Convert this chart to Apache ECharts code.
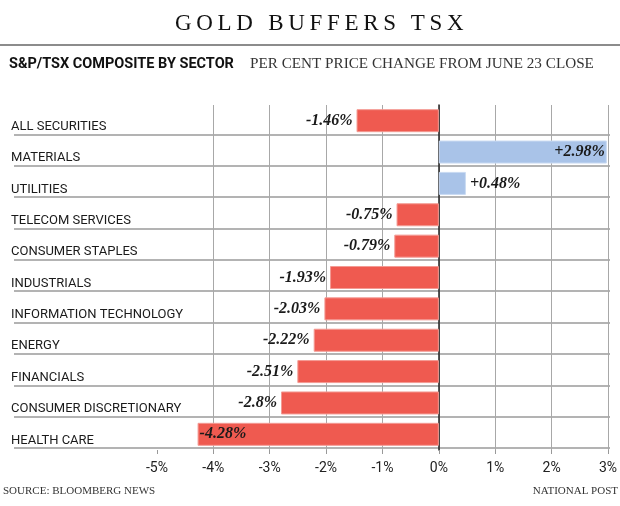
<!DOCTYPE html>
<html>
<head>
<meta charset="utf-8">
<script src="https://cdn.jsdelivr.net/npm/echarts@6/dist/echarts.min.js"></script>
<style>
  html, body { margin: 0; padding: 0; background: #fff; }
  #wrap { position: relative; width: 620px; height: 506px; }
  #chart { position: absolute; left: 0; top: 0; width: 620px; height: 506px; }
  #headline { position: absolute; left: 175px; top: 11px; white-space: nowrap;
    font-family: "Liberation Serif", "DejaVu Serif", serif; font-size: 23px; line-height: 23px;
    letter-spacing: 4.7px; color: #111; z-index: 2; }
</style>
</head>
<body>
<div id="wrap">
  <div id="chart"></div>
  <div id="headline">GOLD BUFFERS TSX</div>
</div>
<script>
// ---- data ----
const categories = ['ALL SECURITIES', 'MATERIALS', 'UTILITIES', 'TELECOM SERVICES', 'CONSUMER STAPLES',
  'INDUSTRIALS', 'INFORMATION TECHNOLOGY', 'ENERGY', 'FINANCIALS', 'CONSUMER DISCRETIONARY', 'HEALTH CARE'];
const values = [-1.46, 2.98, 0.48, -0.75, -0.79, -1.93, -2.03, -2.22, -2.51, -2.8, -4.28];
const xTicks = [-5, -4, -3, -2, -1, 0, 1, 2, 3];
const subtitleBold = 'S&P/TSX COMPOSITE BY SECTOR';
const subtitleText = 'PER CENT PRICE CHANGE FROM JUNE 23 CLOSE';
const sourceText = 'SOURCE: BLOOMBERG NEWS';
const creditText = 'NATIONAL POST';

// ---- styles ----
const RED = '#ef5a50';
const BLUE = '#a9c3e8';
const sansNarrow = '"Liberation Sans Narrow", "Roboto", sans-serif';
const serif = '"Liberation Serif", "DejaVu Serif", serif';

const barData = values.map(v => {
  const inside = (v < -4 || v > 2.5);
  return {
    value: v,
    itemStyle: { color: v < 0 ? RED : BLUE, borderColor: v < 0 ? '#f39a93' : '#c9daf2', borderWidth: 1 },
    label: { position: inside ? (v < 0 ? 'insideLeft' : 'insideRight') : (v < 0 ? 'left' : 'right'),
             distance: inside ? 2 : 4 }
  };
});

const chart = echarts.init(document.getElementById('chart'), null, { renderer: 'canvas' });
chart.setOption({
  backgroundColor: '#fff',
  animation: false,
  title: [
    { text: subtitleBold, left: 9, top: 57, padding: 0,
      textStyle: { fontFamily: 'Roboto, sans-serif', fontWeight: 'bold', fontSize: 14.5, color: '#111' } },
    { text: subtitleText, left: 250, top: 57, padding: 0,
      textStyle: { fontFamily: serif, fontWeight: 'normal', fontSize: 15.2, color: '#333' } },
    { text: sourceText, left: 3, top: 486, padding: 0,
      textStyle: { fontFamily: serif, fontWeight: 'normal', fontSize: 11, color: '#333' } },
    { text: creditText, right: 2, top: 486, padding: 0,
      textStyle: { fontFamily: serif, fontWeight: 'normal', fontSize: 11, color: '#333' } }
  ],
  graphic: [
    { type: 'line', shape: { x1: 0, y1: 45, x2: 620, y2: 45 }, style: { stroke: '#666', lineWidth: 1.5 } }
  ],
  grid: [
    { left: 157, right: 10, top: 105, bottom: 56 },
    { left: 14, right: 10, top: 103, bottom: 58 }
  ],
  xAxis: [
    { gridIndex: 0, type: 'value', min: xTicks[0], max: xTicks[xTicks.length - 1], interval: 1,
      axisLine: { show: false },
      axisTick: { show: true, length: 4, lineStyle: { color: '#999' } },
      axisLabel: { margin: 11, formatter: '{value}%', fontFamily: sansNarrow, fontSize: 14, color: '#222' },
      splitLine: { show: true, showMinLine: false, lineStyle: { color: '#a8a8a8', width: 1 } } },
    { gridIndex: 1, type: 'value', min: 0, max: 1, show: false }
  ],
  yAxis: [
    { gridIndex: 0, type: 'category', inverse: true, data: categories,
      axisLine: { show: true, onZero: true, lineStyle: { color: '#222', width: 1.5 } },
      axisTick: { show: false }, axisLabel: { show: false }, splitLine: { show: false } },
    { gridIndex: 1, type: 'category', inverse: true, data: categories,
      axisLine: { show: false }, axisTick: { show: false },
      axisLabel: { inside: true, align: 'left', margin: -3, verticalAlign: 'top', lineHeight: 16,
        fontFamily: sansNarrow, fontSize: 13, color: '#1a1a1a' },
      splitLine: { show: true, showMinLine: false, lineStyle: { color: '#9a9a9a', width: 1.5 } } }
  ],
  series: [
    { type: 'bar', xAxisIndex: 0, yAxisIndex: 0, barWidth: 23, data: barData,
      label: { show: true,
        formatter: p => (p.value > 0 ? '+' : '') + p.value + '%',
        fontFamily: serif, fontStyle: 'italic', fontWeight: 'bold', fontSize: 16, color: '#1a1a1a' } }
  ]
});
</script>
</body>
</html>
